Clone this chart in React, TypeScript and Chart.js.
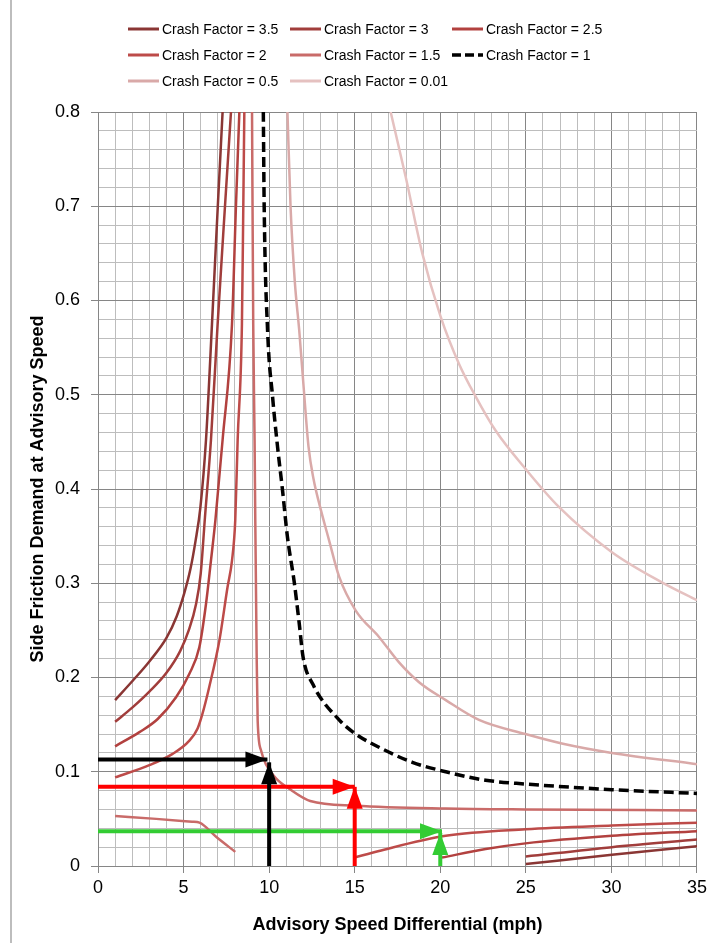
import React, { useEffect, useRef } from "react";
import { Chart, registerables } from "chart.js";

Chart.register(...registerables);

type P = [number, number];

// ---- axis ranges & ticks ----
const X_MIN = 0;
const X_MAX = 35;
const X_STEP = 1;
const X_LABEL_EVERY = 5;
const Y_MIN = 0;
const Y_MAX = 0.8;
const Y_STEP = 0.02;
const Y_LABEL_EVERY = 0.1;

const X_TITLE = "Advisory Speed Differential (mph)";
const Y_TITLE = "Side Friction Demand at Advisory Speed";

// ---- series values (x = speed differential, y = side friction demand) ----
const cf35Left: P[] = [
  [1.0, 0.176], [2.0, 0.196], [3.0, 0.217], [4.0, 0.242], [4.6, 0.265], [5.05, 0.29],
  [5.4, 0.315], [5.7, 0.345], [5.98, 0.38], [6.31, 0.452], [6.66, 0.575], [7.0, 0.7], [7.28, 0.8],
];
const cf35Right: P[] = [[25.0, 0.002], [30.03, 0.012], [35.0, 0.021]];

const cf3Left: P[] = [
  [1.0, 0.153], [2.0, 0.168], [3.0, 0.185], [4.0, 0.205], [4.8, 0.228], [5.3, 0.25],
  [5.73, 0.278], [6.0, 0.31], [6.25, 0.37], [6.6, 0.452], [6.99, 0.575], [7.42, 0.7], [7.77, 0.8],
];
const cf3Right: P[] = [[25.0, 0.01], [30.03, 0.02], [35.0, 0.028]];

const cf25Left: P[] = [
  [1.0, 0.127], [2.42, 0.142], [3.49, 0.156], [4.56, 0.179], [5.34, 0.204], [5.92, 0.232],
  [6.31, 0.278], [6.6, 0.324], [6.86, 0.367], [7.28, 0.452], [7.83, 0.575], [8.06, 0.7], [8.26, 0.8],
];
const cf25Right: P[] = [[20.1, 0.009], [22.65, 0.018], [24.98, 0.024], [30.03, 0.032], [35.0, 0.037]];

const cf2Left: P[] = [
  [1.0, 0.094], [3.0, 0.107], [4.36, 0.119], [5.34, 0.133], [5.82, 0.146], [6.11, 0.162],
  [6.5, 0.19], [7.09, 0.239], [7.57, 0.296], [7.83, 0.324], [8.02, 0.367], [8.16, 0.452],
  [8.41, 0.575], [8.49, 0.7], [8.55, 0.8],
];
const cf2Right: P[] = [[15.0, 0.009], [16.42, 0.016], [20.32, 0.032], [24.98, 0.039], [30.03, 0.043], [35.0, 0.046]];

const cf15Left: P[] = [[1.0, 0.053], [3.4, 0.05], [5.5, 0.047], [5.93, 0.046], [6.9, 0.031], [8.02, 0.015]];
const cf15Right: P[] = [
  [9.0, 0.8], [9.07, 0.575], [9.15, 0.452], [9.19, 0.367], [9.27, 0.225], [9.33, 0.154],
  [9.52, 0.123], [9.81, 0.108], [10.4, 0.093], [11.17, 0.082], [12.4, 0.069], [15.06, 0.064],
  [20.32, 0.061], [24.98, 0.06], [35.0, 0.059],
];

const cf1: P[] = [
  [9.66, 0.8], [9.71, 0.7], [9.91, 0.568], [10.2, 0.498], [10.49, 0.445], [10.78, 0.399],
  [11.07, 0.349], [11.46, 0.302], [11.76, 0.257], [11.98, 0.222], [12.55, 0.193], [14.09, 0.155],
  [15.06, 0.14], [16.42, 0.126], [18.37, 0.11], [20.32, 0.1], [22.65, 0.091], [24.98, 0.087],
  [30.03, 0.081], [35.0, 0.077],
];

const cf05: P[] = [
  [11.07, 0.8], [11.25, 0.7], [11.5, 0.62], [11.76, 0.568], [12.05, 0.5], [12.3, 0.445],
  [12.6, 0.41], [12.92, 0.385], [13.51, 0.345], [14.09, 0.307], [15.06, 0.271], [16.42, 0.243],
  [17.59, 0.216], [18.76, 0.195], [20.32, 0.176], [22.26, 0.155], [24.98, 0.14], [27.1, 0.13],
  [30.03, 0.12], [35.0, 0.108],
];

const cf001: P[] = [
  [17.1, 0.8], [17.98, 0.731], [18.95, 0.65], [20.02, 0.583], [21.09, 0.533], [22.07, 0.498],
  [23.23, 0.462], [25.04, 0.42], [26.93, 0.381], [30.03, 0.333], [32.95, 0.301], [35.0, 0.282],
];

// ---- annotation arrows (start, tip) ----
const arrowBlackH: P[] = [[0, 0.113], [9.9, 0.113]];
const arrowBlackV: P[] = [[10, 0], [10, 0.11]];
const arrowRedH: P[] = [[0, 0.084], [15, 0.084]];
const arrowRedV: P[] = [[15, 0], [15, 0.084]];
const arrowGreenH: P[] = [[0, 0.037], [20.1, 0.037]];
const arrowGreenV: P[] = [[20, 0], [20, 0.035]];

// ---- series styling ----
const seriesLabels = [
  "Crash Factor = 3.5", "Crash Factor = 3", "Crash Factor = 2.5",
  "Crash Factor = 2", "Crash Factor = 1.5", "Crash Factor = 1",
  "Crash Factor = 0.5", "Crash Factor = 0.01",
];
const seriesColors = ["#8a3634", "#a13d3b", "#b2413f", "#bd4b49", "#c96b69", "#000000", "#d9a9a8", "#e5c1c0"];
const seriesBranches: P[][][] = [
  [cf35Left, cf35Right],
  [cf3Left, cf3Right],
  [cf25Left, cf25Right],
  [cf2Left, cf2Right],
  [cf15Left, cf15Right],
  [cf1],
  [cf05],
  [cf001],
];
const DASHED_INDEX = 5;

const arrows: { pts: P[]; color: string }[] = [
  { pts: arrowBlackH, color: "#000000" },
  { pts: arrowBlackV, color: "#000000" },
  { pts: arrowRedH, color: "#ff0000" },
  { pts: arrowRedV, color: "#ff0000" },
  { pts: arrowGreenH, color: "#33cc33" },
  { pts: arrowGreenV, color: "#33cc33" },
];

const FONT = '"Liberation Sans", Arial, sans-serif';
const MAJOR_GRID = "#868686";
const MINOR_GRID = "#bdbdbd";

const isMultiple = (v: number, m: number) => Math.abs(v / m - Math.round(v / m)) < 1e-6;

const arrowHeadPlugin = {
  id: "arrowHeads",
  afterDatasetsDraw(chart: any) {
    const ctx = chart.ctx;
    chart.data.datasets.forEach((ds: any, i: number) => {
      if (!ds.arrowHead) return;
      const meta = chart.getDatasetMeta(i);
      const pts = meta.data;
      if (pts.length < 2) return;
      const a = pts[pts.length - 2];
      const b = pts[pts.length - 1];
      const ang = Math.atan2(b.y - a.y, b.x - a.x);
      const L = 22;
      const W = 16;
      ctx.save();
      ctx.translate(b.x, b.y);
      ctx.rotate(ang);
      ctx.beginPath();
      ctx.moveTo(0, 0);
      ctx.lineTo(-L, -W / 2);
      ctx.lineTo(-L, W / 2);
      ctx.closePath();
      ctx.fillStyle = ds.borderColor;
      ctx.fill();
      ctx.restore();
    });
  },
};

function LegendSwatch({ color, dashed }: { color: string; dashed: boolean }) {
  return (
    <svg width={31} height={6} style={{ display: "block", flex: "0 0 auto" }}>
      <line
        x1={0}
        y1={3}
        x2={31}
        y2={3}
        stroke={color}
        strokeWidth={dashed ? 3.5 : 3}
        strokeDasharray={dashed ? "9,4" : undefined}
      />
    </svg>
  );
}

export default function App() {
  const canvasRef = useRef<HTMLCanvasElement | null>(null);

  useEffect(() => {
    if (!canvasRef.current) return;
    const datasets: any[] = [];
    seriesBranches.forEach((branches, si) => {
      branches.forEach((branch) => {
        datasets.push({
          label: seriesLabels[si],
          data: branch.map(([x, y]) => ({ x, y })),
          borderColor: seriesColors[si],
          backgroundColor: seriesColors[si],
          borderWidth: si === DASHED_INDEX ? 3.5 : 2.5,
          borderDash: si === DASHED_INDEX ? [10, 5] : [],
          pointRadius: 0,
          pointHoverRadius: 0,
          showLine: true,
          fill: false,
          cubicInterpolationMode: "monotone",
          order: 1,
        });
      });
    });
    arrows.forEach((a) => {
      datasets.push({
        label: "arrow",
        data: a.pts.map(([x, y]) => ({ x, y })),
        borderColor: a.color,
        backgroundColor: a.color,
        borderWidth: 4,
        pointRadius: 0,
        pointHoverRadius: 0,
        showLine: true,
        fill: false,
        tension: 0,
        arrowHead: true,
        order: 0,
      });
    });

    const chart = new Chart(canvasRef.current, {
      type: "scatter",
      data: { datasets },
      options: {
        animation: false,
        responsive: false,
        maintainAspectRatio: false,
        events: [],
        layout: { padding: { top: 112, right: 12, bottom: 0, left: 0 } },
        plugins: {
          legend: { display: false },
          tooltip: { enabled: false },
        },
        scales: {
          x: {
            type: "linear",
            min: X_MIN,
            max: X_MAX,
            afterFit: (s: any) => {
              s.height = 77;
            },
            ticks: {
              stepSize: X_STEP,
              autoSkip: false,
              maxRotation: 0,
              padding: 4,
              color: "#000",
              font: { family: FONT, size: 18 },
              callback: (v: any) => (isMultiple(Number(v), X_LABEL_EVERY) ? String(v) : ""),
            },
            grid: {
              color: (c: any) => (isMultiple(c.tick.value, X_LABEL_EVERY) ? MAJOR_GRID : MINOR_GRID),
              tickColor: (c: any) => (isMultiple(c.tick.value, X_LABEL_EVERY) ? MAJOR_GRID : "rgba(0,0,0,0)"),
              tickLength: 7,
              lineWidth: 1,
            },
            border: { color: MAJOR_GRID, width: 1 },
            title: {
              display: true,
              text: X_TITLE,
              color: "#000",
              font: { family: FONT, size: 18, weight: "bold" },
              padding: { top: 0, bottom: 7 },
            },
          },
          y: {
            type: "linear",
            min: Y_MIN,
            max: Y_MAX,
            afterFit: (s: any) => {
              s.width = 98;
            },
            ticks: {
              stepSize: Y_STEP,
              autoSkip: false,
              padding: 11,
              color: "#000",
              font: { family: FONT, size: 18 },
              callback: (v: any) => {
                const n = Number(v);
                if (!isMultiple(n, Y_LABEL_EVERY)) return "";
                return n === 0 ? "0" : n.toFixed(1);
              },
            },
            grid: {
              color: (c: any) => (isMultiple(c.tick.value, Y_LABEL_EVERY) ? MAJOR_GRID : MINOR_GRID),
              tickColor: (c: any) => (isMultiple(c.tick.value, Y_LABEL_EVERY) ? MAJOR_GRID : "rgba(0,0,0,0)"),
              tickLength: 7,
              lineWidth: 1,
            },
            border: { color: MAJOR_GRID, width: 1 },
            title: {
              display: true,
              text: Y_TITLE,
              color: "#000",
              font: { family: FONT, size: 18, weight: "bold" },
              padding: { top: 27, bottom: 0 },
            },
          },
        },
      } as any,
      plugins: [arrowHeadPlugin],
    });
    return () => chart.destroy();
  }, []);

  return (
    <div
      style={{
        position: "absolute",
        left: 0,
        top: 0,
        width: 711,
        height: 943,
        background: "#fff",
        overflow: "hidden",
      }}
    >
      <canvas ref={canvasRef} width={711} height={943} style={{ display: "block" }} />
      <div
        style={{
          position: "absolute",
          left: 10,
          top: 0,
          width: 1.5,
          height: 943,
          background: "#bdbdbd",
        }}
      />
      <div
        style={{
          position: "absolute",
          left: 128,
          top: 16,
          display: "grid",
          gridTemplateColumns: "162px 162px 162px",
          gridAutoRows: "26px",
          fontFamily: FONT,
          fontSize: 14,
          color: "#000",
        }}
      >
        {seriesLabels.map((lab, i) => (
          <div key={lab} style={{ display: "flex", alignItems: "center", whiteSpace: "nowrap" }}>
            <LegendSwatch color={seriesColors[i]} dashed={i === DASHED_INDEX} />
            <span style={{ marginLeft: 3 }}>{lab}</span>
          </div>
        ))}
      </div>
    </div>
  );
}
